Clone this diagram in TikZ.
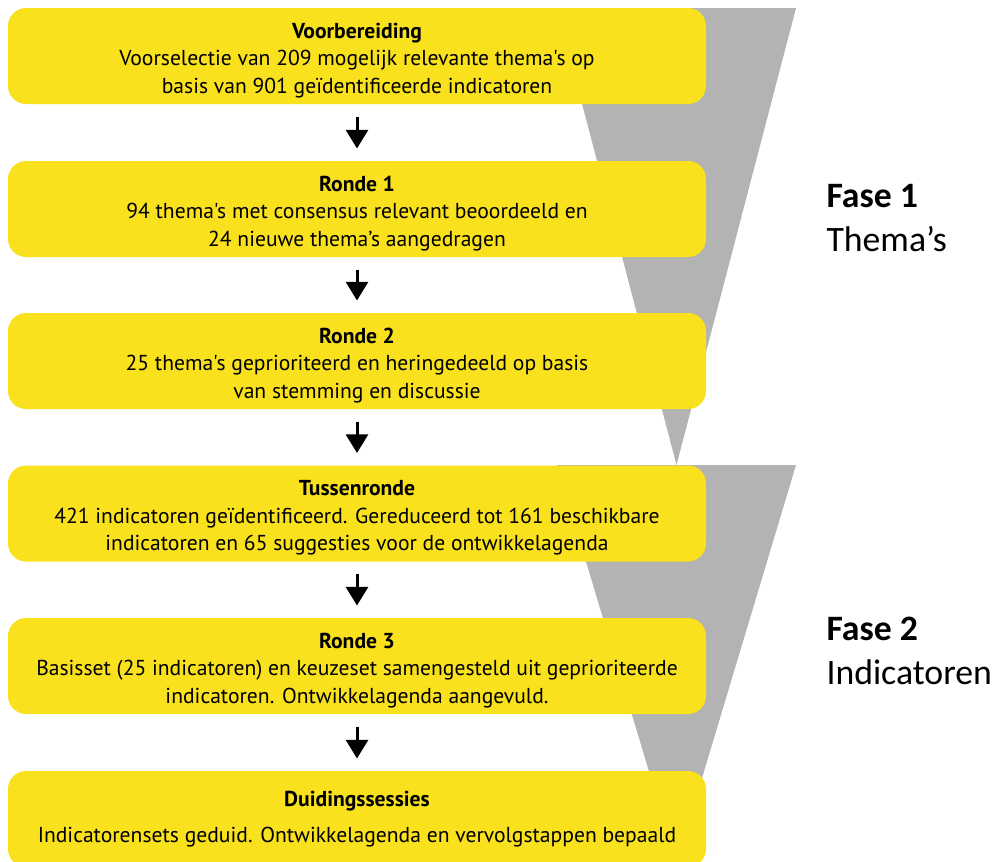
\documentclass[tikz,border=0pt]{standalone}
\usepackage{fontspec}
\usepackage{tikz}
\usepackage{xcolor}
\usetikzlibrary{arrows.meta}
\newfontfamily\stapfont{PT Sans}[Ligatures=TeXOff]
\newfontfamily\fasefont{Carlito}[Ligatures=TeXOff]
\definecolor{rijksgeel}{HTML}{F9E11E}
\definecolor{trechtergrijs}{HTML}{B3B3B3}
\newcommand{\stapkop}[1]{\rule{0pt}{18pt}\textbf{#1}}
\tikzset{every picture/.style={line width=0.75pt}}
\tikzset{
  stap/.style={fill=rijksgeel, rounded corners=13.5pt, minimum width=523.5pt, minimum height=72pt,
    inner sep=0pt, align=center, font=\stapfont\fontsize{16.2}{20.6}\selectfont},
  pijl/.style={-{Triangle[width=16.5pt, length=14pt]}, line width=2.25pt, shorten <=9pt, shorten >=9pt},
  fase/.style={anchor=west, align=left, inner sep=0pt, font=\fasefont\fontsize{26.8}{32.5}\selectfont},
}

\begin{document}
\begin{tikzpicture}[x=0.75pt,y=0.75pt,yscale=-1,xscale=1]
\clip (0,0) rectangle (994,861);
\path[use as bounding box] (0,0) rectangle (994,861);

%Shape: Triangle fase 1
\fill [trechtergrijs] (557,8) -- (796,8) -- (676.5,465) -- cycle ;
%Shape: Triangle fase 2
\fill [trechtergrijs] (557,465) -- (796,465) -- (676.5,863) -- cycle ;

% Text Node
\node [stap] (voorb) at (357,56) {\stapkop{Voorbereiding}\\Voorselectie van 209 mogelijk relevante thema's op\\basis van 901 geïdentificeerde indicatoren};
% Text Node
\node [stap] (ronde1) at (357,209) {\stapkop{Ronde 1}\\94 thema's met consensus relevant beoordeeld en\\24 nieuwe thema’s aangedragen};
% Text Node
\node [stap] (ronde2) at (357,361) {\stapkop{Ronde 2}\\25 thema's geprioriteerd en heringedeeld op basis\\van stemming en discussie};
% Text Node
\node [stap] (tussen) at (357,513.5) {\stapkop{Tussenronde}\\421 indicatoren geïdentificeerd. Gereduceerd tot 161 beschikbare\\indicatoren en 65 suggesties voor de ontwikkelagenda};
% Text Node
\node [stap] (ronde3) at (357,666) {\stapkop{Ronde 3}\\Basisset (25 indicatoren) en keuzeset samengesteld uit geprioriteerde\\indicatoren. Ontwikkelagenda aangevuld.};
% Text Node
\node [stap] (duiding) at (357,819) {\textbf{Duidingssessies}\\[6pt]Indicatorensets geduid. Ontwikkelagenda en vervolgstappen bepaald};

%Straight Lines
\draw [pijl] (voorb) -- (ronde1) ;
\draw [pijl] (ronde1) -- (ronde2) ;
\draw [pijl] (ronde2) -- (tussen) ;
\draw [pijl] (tussen) -- (ronde3) ;
\draw [pijl] (ronde3) -- (duiding) ;

% Text Node
\node [fase] (fase1) at (826,218) {\textbf{Fase 1}\\Thema’s};
% Text Node
\node [fase] (fase2) at (826,651) {\textbf{Fase 2}\\Indicatoren};

\end{tikzpicture}
\end{document}
